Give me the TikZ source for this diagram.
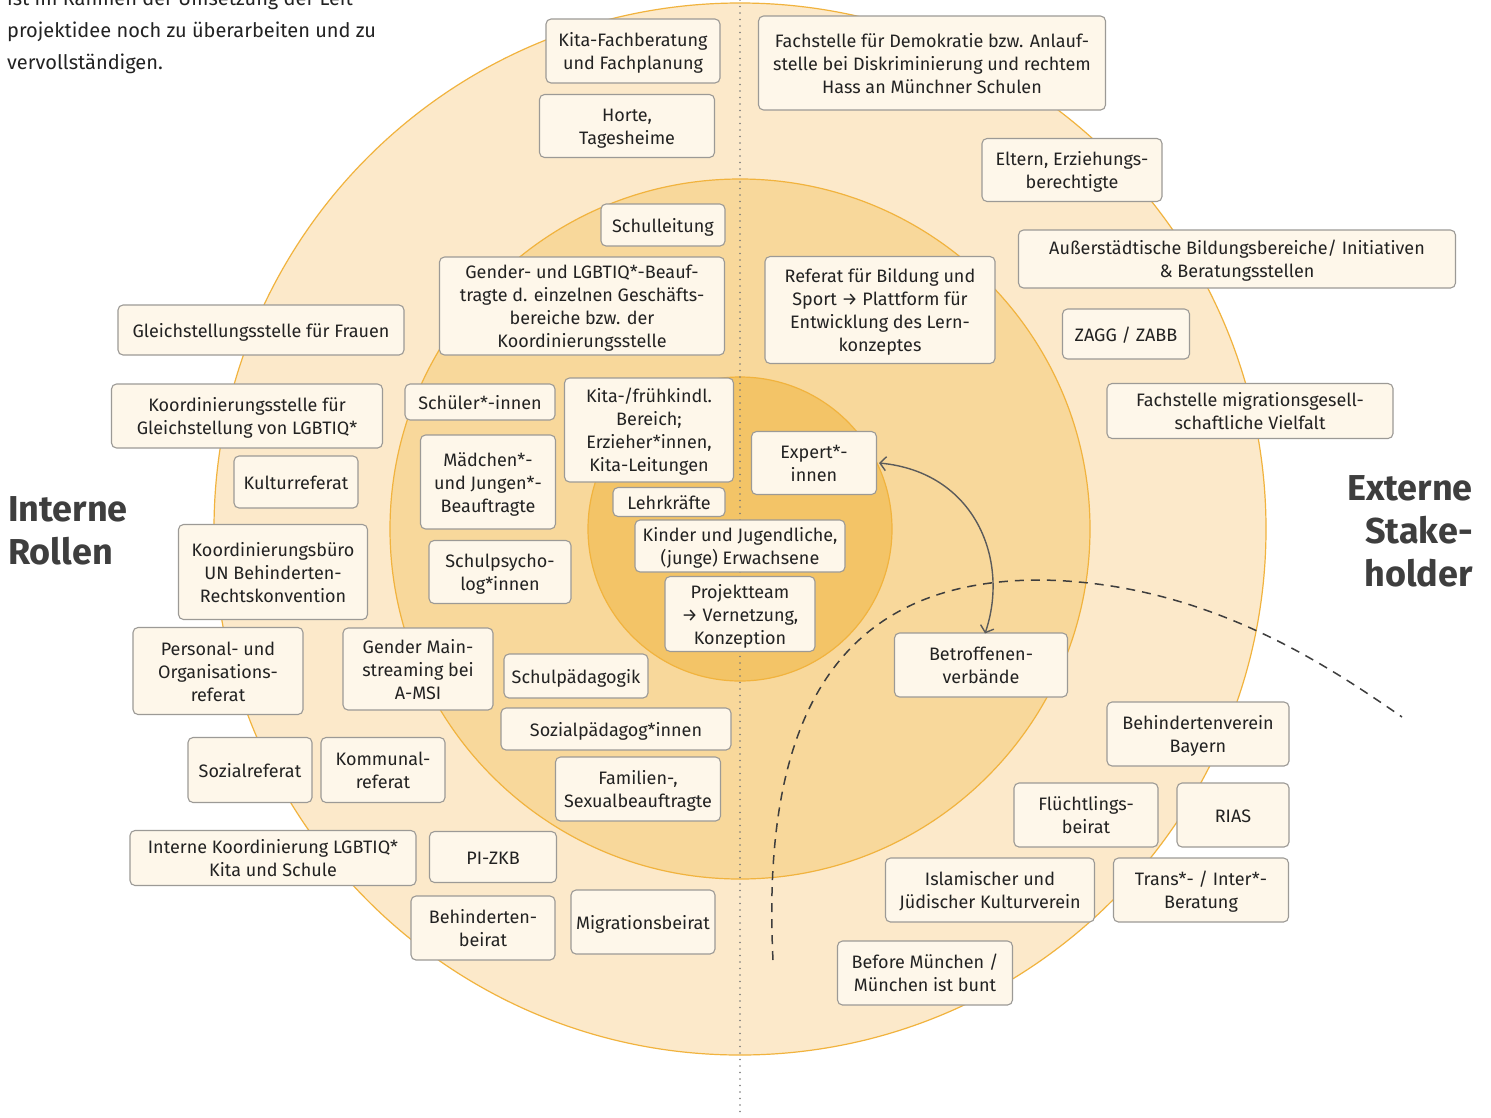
\documentclass[tikz,border=0pt]{standalone}
\usepackage{fontspec}
\setmainfont{Fira Sans}
\usetikzlibrary{arrows.meta}
\definecolor{ringA}{HTML}{FCE9CA}
\definecolor{ringB}{HTML}{F8D89B}
\definecolor{ringC}{HTML}{F3C467}
\definecolor{ringline}{HTML}{F1B33E}
\definecolor{boxfill}{HTML}{FEF7EA}
\definecolor{boxline}{HTML}{9C9A96}
\definecolor{ink}{HTML}{222222}
\definecolor{head}{HTML}{3E3E3E}
\tikzset{
  box/.style={draw=boxline, line width=1.1pt, fill=boxfill, rounded corners=5pt,
    align=center, inner sep=0pt, text=ink, font=\fontsize{18}{23}\selectfont},
  headline/.style={text=head, font=\bfseries\fontsize{36}{43}\selectfont, inner sep=0pt},
  linkarrow/.style={draw=head!85, line width=1.4pt, {Straight Barb[length=6pt,width=14pt]}-{Straight Barb[length=6pt,width=14pt]}},
  boundary/.style={draw=head, line width=1.5pt, dash pattern=on 9pt off 7pt},
}
% box with its lines set slightly low, as in the layout
\newcommand{\bx}[6]{\node[box, minimum width=#4pt, minimum height=#5pt] (#1) at (#2,#3)
  {\raisebox{-2.5pt}[\height][\depth]{\begin{tabular}{@{}c@{}}#6\end{tabular}}};}
\begin{document}
\begin{tikzpicture}[x=1pt,y=-1pt]
\useasboundingbox (0,0) rectangle (1491,1117);
\clip (0,0) rectangle (1491,1117);
\fill[white] (0,0) rectangle (1491,1117);

% rings
\filldraw[fill=ringA, draw=ringline, line width=1.2pt] (740,529) circle[radius=526pt];
\filldraw[fill=ringB, draw=ringline, line width=1.2pt] (740,529) circle[radius=350pt];
\filldraw[fill=ringC, draw=ringline, line width=1.2pt] (740,529) circle[radius=152pt];

% dividing line
\draw[draw=head!70, line width=1.6pt, line cap=round, dash pattern=on 0pt off 6.5pt] (740,0) -- (740,1117);

% intro text
\node[anchor=north west, align=left, inner sep=0pt, text=ink, font=\fontsize{20}{32}\selectfont] (intro) at (7,-10)
  {ist im Rahmen der Umsetzung der Leit-\\projektidee noch zu überarbeiten und zu\\vervollständigen.};

% headings
\node[headline, anchor=west, align=left] (intern) at (8,531) {Interne\\Rollen};
\node[headline, anchor=east, align=right] (extern) at (1473,531) {Externe\\Stake-\\holder};

% boundary between internal and external
\draw[boundary] (773,960) .. controls (760,700) and (850,580) .. (1040,580)
  .. controls (1200,582) and (1320,660) .. (1402,717);

% boxes
\bx{kfb}{633}{51}{174}{64}{Kita-Fachberatung\\und Fachplanung}
\bx{horte}{627}{126}{175}{63}{Horte,\\Tagesheime}
\bx{demo}{932}{63}{347}{94}{Fachstelle für Demokratie bzw. Anlauf-\\stelle bei Diskriminierung und rechtem\\Hass an Münchner Schulen}
\bx{eltern}{1072}{170}{180}{63}{Eltern, Erziehungs-\\berechtigte}
\bx{sl}{663}{225}{124}{42}{Schulleitung}
\bx{gender}{582}{306}{285}{98}{Gender- und LGBTIQ*-Beauf-\\tragte d. einzelnen Geschäfts-\\bereiche bzw. der\\Koordinierungsstelle}
\bx{ausser}{1237}{259}{437}{58}{Außerstädtische Bildungsbereiche/ Initiativen\\\& Beratungsstellen}
\bx{rbs}{880}{310}{230}{107}{Referat für Bildung und\\Sport → Plattform für\\Entwicklung des Lern-\\konzeptes}
\bx{zagg}{1126}{334}{127}{50}{ZAGG / ZABB}
\bx{gsf}{261}{330}{286}{50}{Gleichstellungsstelle für Frauen}
\bx{kgl}{247}{416}{271}{64}{Koordinierungsstelle für\\Gleichstellung von LGBTIQ*}
\bx{schueler}{480}{402}{150}{36}{Schüler*-innen}
\bx{kita}{649}{430}{169}{104}{Kita-/frühkindl.\\Bereich;\\Erzieher*innen,\\Kita-Leitungen}
\bx{migv}{1250}{411}{286}{55}{Fachstelle migrationsgesell-\\schaftliche Vielfalt}
\bx{kultur}{296}{482}{124}{52}{Kulturreferat}
\bx{mj}{488}{482}{135}{94}{Mädchen*-\\und Jungen*-\\Beauftragte}
\bx{expert}{814}{463}{125}{63}{Expert*-\\innen}
\bx{lehr}{669}{502}{112}{29}{Lehrkräfte}
\bx{kinder}{740}{546}{210}{52}{Kinder und Jugendliche,\\(junge) Erwachsene}
\bx{unbrk}{273}{572}{189}{95}{Koordinierungsbüro\\UN Behinderten-\\Rechtskonvention}
\bx{psych}{500}{572}{142}{63}{Schulpsycho-\\log*innen}
\bx{team}{740}{614}{150}{75}{Projektteam\\→ Vernetzung,\\Konzeption}
\bx{betr}{981}{665}{173}{64}{Betroffenen-\\verbände}
\bx{por}{218}{671}{170}{87}{Personal- und\\Organisations-\\referat}
\bx{gms}{418}{669}{150}{82}{Gender Main-\\streaming bei\\A-MSI}
\bx{spaed}{576}{676}{144}{44}{Schulpädagogik}
\bx{sozp}{616}{729}{230}{42}{Sozialpädagog*innen}
\bx{fam}{638}{789}{165}{64}{Familien-,\\Sexualbeauftragte}
\bx{sozref}{250}{770}{124}{65}{Sozialreferat}
\bx{komm}{383}{770}{124}{65}{Kommunal-\\referat}
\bx{bvb}{1198}{734}{182}{64}{Behindertenverein\\Bayern}
\bx{fluecht}{1086}{815}{144}{64}{Flüchtlings-\\beirat}
\bx{rias}{1233}{815}{112}{64}{RIAS}
\bx{ikl}{273}{858}{286}{55}{Interne Koordinierung LGBTIQ*\\Kita und Schule}
\bx{pizkb}{493}{857}{127}{51}{PI-ZKB}
\bx{islam}{990}{890}{209}{64}{Islamischer und\\Jüdischer Kulturverein}
\bx{trans}{1201}{890}{175}{64}{Trans*- / Inter*-\\Beratung}
\bx{bbeirat}{483}{928}{144}{64}{Behinderten-\\beirat}
\bx{migb}{643}{922}{144}{64}{Migrationsbeirat}
\bx{before}{925}{973}{175}{64}{Before München /\\München ist bunt}

% exchange between experts and affected associations
\draw[linkarrow] ([xshift=2pt]expert.east) .. controls (975,472) and (1010,560) .. ([xshift=4pt,yshift=-1pt]betr.north);
\end{tikzpicture}
\end{document}
